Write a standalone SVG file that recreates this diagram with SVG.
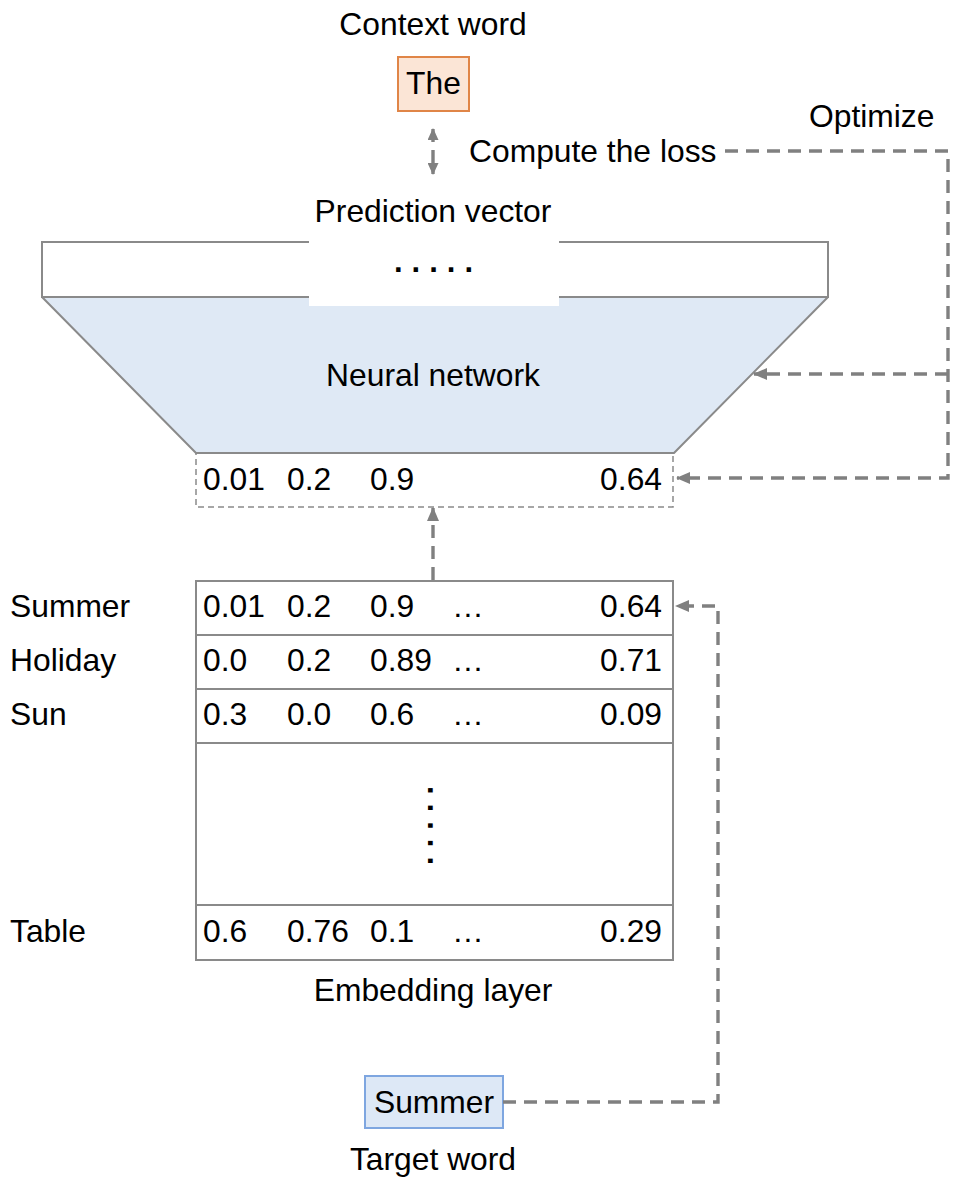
<svg xmlns="http://www.w3.org/2000/svg" width="954" height="1180" viewBox="0 0 954 1180">
<style>
text{font-family:"Liberation Sans",Arial,Helvetica,sans-serif;font-size:31.8px;fill:#000}
.mid{text-anchor:middle}
.end{text-anchor:end}
.cell{fill:#fff;stroke:#8a8a8a;stroke-width:2}
.conn{fill:none;stroke:#808080;stroke-width:3.4;stroke-dasharray:13 8}
.dots{font-weight:bold;font-size:31px;letter-spacing:9px}
</style>
<defs>
<marker id="ah" viewBox="0 0 14 12" markerWidth="14" markerHeight="12" refX="13" refY="6" orient="auto-start-reverse" markerUnits="userSpaceOnUse">
<path d="M0,0 L14,6 L0,12 z" fill="#808080"/>
</marker>
<marker id="ahs" viewBox="0 0 12 11" markerWidth="12" markerHeight="11" refX="11" refY="5.5" orient="auto-start-reverse" markerUnits="userSpaceOnUse">
<path d="M0,0 L12,5.5 L0,11 z" fill="#808080"/>
</marker>
</defs>
<rect width="954" height="1180" fill="#fff"/>

<g id="context-word">
<text class="mid" x="433" y="35">Context word</text>
<rect x="398" y="57" width="71" height="54" fill="#fbe5d6" stroke="#e08547" stroke-width="2"/>
<text class="mid" x="433.500" y="94">The</text>
</g>

<g id="labels">
<text x="469" y="162">Compute the loss</text>
<text x="809" y="127">Optimize</text>
<text class="mid" x="433" y="222">Prediction vector</text>
</g>

<g id="neural-network">
<rect x="42" y="242" width="786" height="55" class="cell"/>
<path d="M42,297 L828,297 L674,453 L196,453 Z" fill="#dfe9f5" stroke="#8a8a8a" stroke-width="2" stroke-linejoin="round"/>
<rect x="309" y="240" width="250" height="66" fill="#fff"/>
<text class="dots" x="394" y="272">.....</text>
<text class="mid" x="433" y="386">Neural network</text>
</g>

<g id="hidden-vector">
<rect x="196" y="453" width="477" height="54" fill="none" stroke="#8a8a8a" stroke-width="1.5" stroke-dasharray="6 4"/>
<text x="203" y="490">0.01</text>
<text x="287" y="490">0.2</text>
<text x="370" y="490">0.9</text>
<text class="end" x="662" y="490">0.64</text>
</g>

<g id="embedding-layer">
<rect x="196" y="581" width="477" height="54" class="cell"/>
<rect x="196" y="635" width="477" height="54" class="cell"/>
<rect x="196" y="689" width="477" height="54" class="cell"/>
<rect x="196" y="743" width="477" height="162" class="cell"/>
<rect x="196" y="905" width="477" height="55" class="cell"/>
<text x="10" y="617">Summer</text>
<text x="203" y="617">0.01</text><text x="287" y="617">0.2</text><text x="370" y="617">0.9</text><text x="452" y="617">…</text><text class="end" x="662" y="617">0.64</text>
<text x="10" y="671">Holiday</text>
<text x="203" y="671">0.0</text><text x="287" y="671">0.2</text><text x="370" y="671">0.89</text><text x="452" y="671">…</text><text class="end" x="662" y="671">0.71</text>
<text x="10" y="725">Sun</text>
<text x="203" y="725">0.3</text><text x="287" y="725">0.0</text><text x="370" y="725">0.6</text><text x="452" y="725">…</text><text class="end" x="662" y="725">0.09</text>
<text class="dots" x="0" y="0" transform="translate(428 786) rotate(90)">.....</text>
<text x="10" y="942">Table</text>
<text x="203" y="942">0.6</text><text x="287" y="942">0.76</text><text x="370" y="942">0.1</text><text x="452" y="942">…</text><text class="end" x="662" y="942">0.29</text>
<text class="mid" x="433" y="1001">Embedding layer</text>
</g>

<g id="target-word">
<rect x="365" y="1076" width="138" height="52" fill="#dde8f6" stroke="#7ea6e0" stroke-width="2"/>
<text class="mid" x="434" y="1113">Summer</text>
<text class="mid" x="433" y="1170">Target word</text>
</g>

<g id="connectors">
<path class="conn" d="M433,129 V174" marker-start="url(#ahs)" marker-end="url(#ahs)"/>
<path class="conn" d="M725,151 H948 V478 H677" marker-end="url(#ah)"/>
<path class="conn" d="M948,374 H754" marker-end="url(#ah)"/>
<path class="conn" d="M433,580 V508" marker-end="url(#ah)"/>
<path class="conn" d="M503,1102 H718 V606 H676" marker-end="url(#ah)"/>
</g>
</svg>
